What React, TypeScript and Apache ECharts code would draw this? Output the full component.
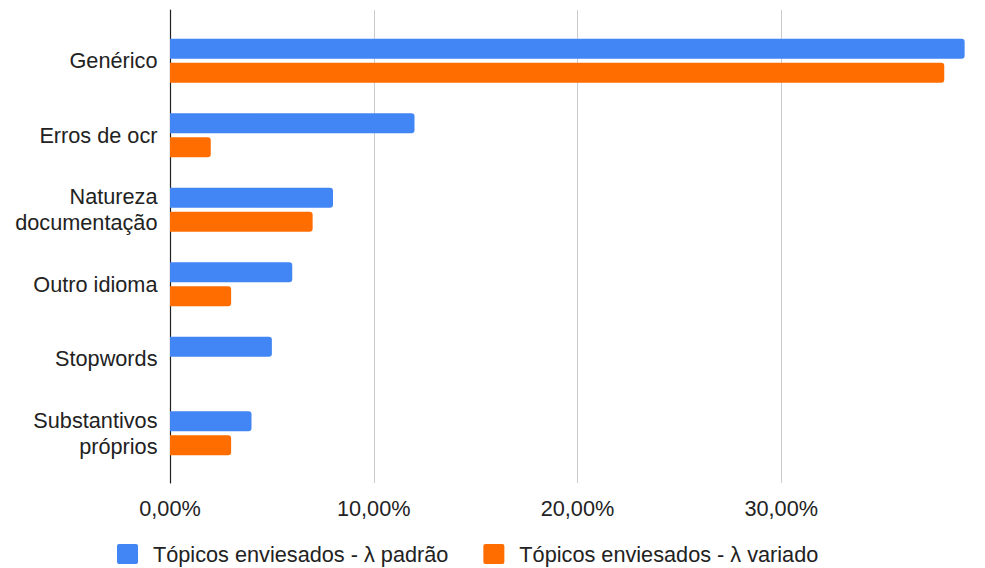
import React, { useEffect, useRef } from "react";
import * as echarts from "echarts";

const categories: string[] = [
  "Genérico",
  "Erros de ocr",
  "Natureza\ndocumentação",
  "Outro idioma",
  "Stopwords",
  "Substantivos\npróprios",
];

const seriesNames: string[] = [
  "Tópicos enviesados - λ padrão",
  "Tópicos enviesados - λ variado",
];

// Shares of topics, as fractions
const padraoValues: number[] = [0.39, 0.12, 0.08, 0.06, 0.05, 0.04];
const variadoValues: number[] = [0.38, 0.02, 0.07, 0.03, 0, 0.03];

const xTicks: number[] = [0, 0.1, 0.2, 0.3, 0.4];

const FONT = "'Liberation Sans', Arial, sans-serif";
const FS = 21.7;
const TEXT = "#222222";

// square legend marker with slightly softened corners
const LEGEND_ICON =
  "path://M2,0 H19 Q21,0 21,2 V18 Q21,20 19,20 H2 Q0,20 0,18 V2 Q0,0 2,0 Z";

const fmtPct = (v: number) => (v * 100).toFixed(2).replace(".", ",") + "%";

export default function App() {
  const ref = useRef<HTMLDivElement>(null);

  useEffect(() => {
    document.body.style.margin = "0";
    if (!ref.current) return;
    const chart = echarts.init(ref.current, undefined, { renderer: "svg" });
    const xMin = xTicks[0];
    const xMax = xTicks[xTicks.length - 1];
    const xStep = xTicks[1] - xTicks[0];

    chart.setOption({
      animation: false,
      textStyle: { fontFamily: FONT },
      legend: {
        left: 117,
        top: 543,
        padding: 0,
        itemWidth: 21,
        itemHeight: 20,
        itemGap: 35,
        icon: LEGEND_ICON,
        textStyle: {
          fontFamily: FONT,
          fontSize: FS,
          color: TEXT,
          padding: [0, 0, 0, 10],
        },
        data: seriesNames,
      },
      grid: [
        // bars
        { left: 170, width: 817.7, top: 23.4, bottom: 97.6 },
        // frame: gridlines, x labels and the left axis line
        { left: 170, width: 817.7, top: 10, bottom: 85 },
      ],
      xAxis: [
        {
          gridIndex: 0,
          type: "value",
          min: xMin,
          max: xMax,
          interval: xStep,
          axisLine: { show: false },
          axisTick: { show: false },
          axisLabel: { show: false },
          splitLine: { show: false },
        },
        {
          gridIndex: 1,
          type: "value",
          min: xMin,
          max: xMax,
          interval: xStep,
          axisLine: { show: false },
          axisTick: { show: false },
          axisLabel: {
            formatter: (v: number) => fmtPct(v),
            fontFamily: FONT,
            fontSize: FS,
            color: TEXT,
            margin: 14,
            showMaxLabel: false,
          },
          splitLine: { show: true, lineStyle: { color: "#cccccc", width: 1 } },
        },
      ],
      yAxis: [
        {
          gridIndex: 0,
          type: "category",
          inverse: true,
          data: categories,
          axisLine: { show: false },
          axisTick: { show: false },
          axisLabel: {
            fontFamily: FONT,
            fontSize: FS,
            lineHeight: 26,
            color: TEXT,
            margin: 12.5,
            align: "right",
          },
        },
        {
          gridIndex: 1,
          type: "value",
          min: 0,
          max: 1,
          axisLine: { show: true, lineStyle: { color: "#222222", width: 1.2 } },
          axisTick: { show: false },
          axisLabel: { show: false },
          splitLine: { show: false },
        },
      ],
      series: [
        {
          name: seriesNames[0],
          type: "bar",
          xAxisIndex: 0,
          yAxisIndex: 0,
          data: padraoValues,
          barWidth: 20,
          barGap: "20%",
          itemStyle: { color: "#4285F4", borderRadius: [0, 3, 3, 0] },
        },
        {
          name: seriesNames[1],
          type: "bar",
          xAxisIndex: 0,
          yAxisIndex: 0,
          data: variadoValues,
          barWidth: 20,
          barGap: "20%",
          itemStyle: { color: "#FF6D01", borderRadius: [0, 3, 3, 0] },
        },
      ],
    });

    return () => chart.dispose();
  }, []);

  return <div ref={ref} style={{ width: 985, height: 568 }} />;
}
